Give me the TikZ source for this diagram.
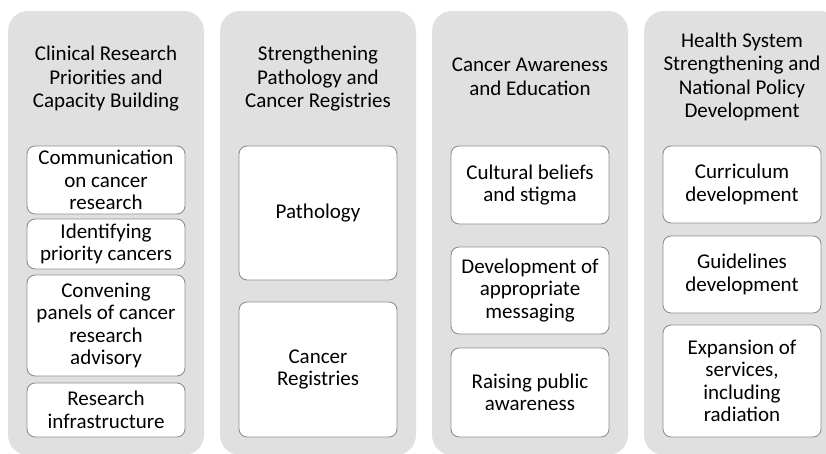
\documentclass[tikz,border=0pt]{standalone}
\usepackage{fontspec}
\setmainfont{Carlito}
\definecolor{colgray}{HTML}{E0E0E0}
\definecolor{boxline}{HTML}{8E8E8E}
\begin{document}
\begin{tikzpicture}[x=1pt,y=-1pt,
  column/.style={fill=colgray, draw=none, rounded corners=20pt},
  title/.style={align=center, font=\fontsize{21}{23.5}\selectfont, inner sep=0pt},
  itembox/.style={draw=boxline, fill=white, line width=0.9pt, rounded corners=8pt,
    minimum width=158pt, align=center, font=\fontsize{21}{22.5}\selectfont, inner sep=0pt}
]
\useasboundingbox (0,0) rectangle (826,453);
\begin{scope}
\clip (0,0) rectangle (826,453);
\fill[column] (8,11) rectangle (204,455);
\fill[column] (220,11) rectangle (416,455);
\fill[column] (432,11) rectangle (628,455);
\fill[column] (644,11) rectangle (840,455);
\end{scope}

% column 1
\node[title] (t1) at (106,79) {Clinical Research\\Priorities and\\Capacity Building};
\node[itembox, minimum height=68pt] (a1) at (106,180) {Communication\\on cancer\\research};
\node[itembox, minimum height=50pt] (a2) at (106,244) {Identifying\\priority cancers};
\node[itembox, minimum height=101pt] (a3) at (106,325.5) {Convening\\panels of cancer\\research\\advisory};
\node[itembox, minimum height=54pt] (a4) at (106,410) {Research\\infrastructure};

% column 2
\node[title] (t2) at (318,79) {Strengthening\\Pathology and\\Cancer Registries};
\node[itembox, minimum height=134pt] (b1) at (318,213) {Pathology};
\node[itembox, minimum height=135pt] (b2) at (318,369.5) {Cancer\\Registries};

% column 3
\node[title] (t3) at (530,77) {Cancer Awareness\\and Education};
\node[itembox, minimum height=78pt] (c1) at (530,185) {Cultural beliefs\\and stigma};
\node[itembox, minimum height=87pt] (c2) at (530,290.5) {Development of\\appropriate\\messaging};
\node[itembox, minimum height=89pt] (c3) at (530,392.5) {Raising public\\awareness};

% column 4
\node[title] (t4) at (742,77) {Health System\\Strengthening and\\National Policy\\Development};
\node[itembox, minimum height=77pt] (d1) at (742,184.5) {Curriculum\\development};
\node[itembox, minimum height=77pt] (d2) at (742,274.5) {Guidelines\\development};
\node[itembox, minimum height=112pt] (d3) at (742,381) {Expansion of\\services,\\including\\radiation};
\end{tikzpicture}
\end{document}
